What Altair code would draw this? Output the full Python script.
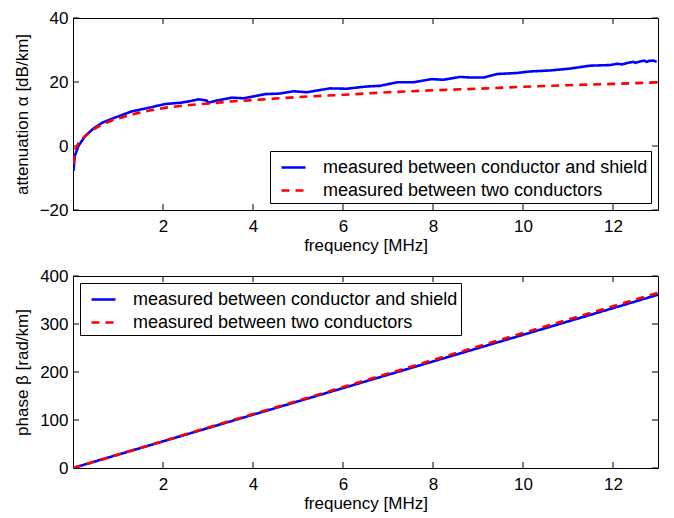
import altair as alt
import pandas as pd

# ---------------- data ----------------
S1 = "measured between conductor and shield"
S2 = "measured between two conductors"

# attenuation, measured between conductor and shield
att_shield_f = [0.01, 0.04, 0.12, 0.27, 0.45, 0.64, 0.9, 1.3, 1.64, 2.04, 2.38, 2.6,
                2.79, 2.97, 3.01, 3.19, 3.53, 3.79, 4.27, 4.6, 4.9, 5.2, 5.71, 6.08,
                6.53, 6.82, 7.2, 7.56, 7.97, 8.23, 8.6, 8.82, 9.12, 9.42, 9.86, 10.16,
                10.6, 11.05, 11.49, 11.94, 12.1, 12.2, 12.3, 12.45, 12.5, 12.6, 12.7,
                12.75, 12.8, 12.9, 12.97]
att_shield_v = [-7.8, -3.1, 0.0, 3.1, 5.4, 7.2, 8.7, 10.8, 11.8, 13.1, 13.5, 14.0,
                14.6, 14.2, 13.5, 14.2, 15.1, 14.9, 16.2, 16.4, 17.1, 16.8, 18.0, 17.9,
                18.6, 18.8, 19.9, 19.9, 20.9, 20.7, 21.6, 21.4, 21.4, 22.5, 22.8, 23.3,
                23.6, 24.2, 25.1, 25.3, 25.7, 25.5, 25.9, 26.3, 26.0, 26.4, 26.7,
                26.3, 26.6, 26.7, 26.3]

# attenuation, measured between two conductors
att_two_f = [0.01, 0.05, 0.15, 0.3, 0.45, 0.6, 0.9, 1.1, 1.41, 1.7, 2.07, 2.5, 3.04,
             3.5, 4.16, 5.0, 6.0, 7.0, 8.0, 9.0, 10.0, 11.0, 12.0, 13.0]
att_two_v = [-5.5, -1.0, 1.6, 3.5, 5.1, 6.4, 8.2, 9.0, 10.2, 11.1, 12.0, 12.7, 13.3,
             13.9, 14.5, 15.3, 16.0, 16.8, 17.4, 17.9, 18.5, 19.0, 19.4, 19.9]

# phase
phase_f = [0, 2, 4, 6, 8, 10, 12, 13]
phase_shield_v = [0, 55.5, 111, 166.5, 222, 277.5, 333, 361]
phase_two_v = [0, 56, 112.5, 168.5, 225, 281, 337, 365]

x_ticks = [2, 4, 6, 8, 10, 12]
alpha_ticks = [-20, 0, 20, 40]
beta_ticks = [0, 100, 200, 300, 400]

# ---------------- chart ----------------
W, H = 585, 192
TICK = 6
FONT = "Liberation Sans"


def legend(orient):
    return alt.Legend(
        orient=orient, offset=7, title=None, direction="vertical",
        strokeColor="black", fillColor="white", padding=3, cornerRadius=0,
        symbolType="stroke", symbolSize=576, symbolStrokeWidth=2.5,
        symbolOffset=7, labelOffset=16, labelFontSize=18, labelFont=FONT,
        labelColor="black", labelLimit=600, rowPadding=-2,
    )


def panel(f1, v1, f2, v2, ytitle, ydomain, yticks, orient):
    x_enc = alt.X("f:Q", scale=alt.Scale(domain=[0, 13], nice=False, zero=False),
                  axis=alt.Axis(values=x_ticks, title="frequency [MHz]"))
    y_enc = alt.Y("v:Q", scale=alt.Scale(domain=ydomain, nice=False, zero=False),
                  axis=alt.Axis(values=yticks, title=ytitle))
    lg = legend(orient)
    color = alt.Color("series:N", scale=alt.Scale(domain=[S1, S2], range=["#0000ff", "#ff0000"]),
                      legend=lg)
    dash = alt.StrokeDash("series:N", scale=alt.Scale(domain=[S1, S2], range=[[1, 0], [8, 6]]),
                          legend=lg)

    d1 = pd.DataFrame({"f": f1, "v": v1, "series": S1})
    d2 = pd.DataFrame({"f": f2, "v": v2, "series": S2})
    l1 = alt.Chart(d1).mark_line(strokeWidth=2.6, clip=True).encode(
        x=x_enc, y=y_enc, color=color, strokeDash=dash)
    l2 = alt.Chart(d2).mark_line(strokeWidth=2.6, clip=True).encode(
        x=x_enc, y=y_enc, color=color, strokeDash=dash)

    xt = pd.DataFrame({"f": x_ticks})
    yt = pd.DataFrame({"v": yticks})
    r_top = alt.Chart(xt).mark_rule(color="black", strokeWidth=1).encode(
        x=x_enc, y=alt.value(0), y2=alt.value(TICK))
    r_bot = alt.Chart(xt).mark_rule(color="black", strokeWidth=1).encode(
        x=x_enc, y=alt.value(H), y2=alt.value(H - TICK))
    r_left = alt.Chart(yt).mark_rule(color="black", strokeWidth=1).encode(
        y=y_enc, x=alt.value(0), x2=alt.value(TICK))
    r_right = alt.Chart(yt).mark_rule(color="black", strokeWidth=1).encode(
        y=y_enc, x=alt.value(W), x2=alt.value(W - TICK))

    return alt.layer(r_top, r_bot, r_left, r_right, l1, l2).properties(width=W, height=H)


top = panel(att_shield_f, att_shield_v, att_two_f, att_two_v,
            "attenuation α [dB/km]", [-20, 40], alpha_ticks, "bottom-right")
bottom = panel(phase_f, phase_shield_v, phase_f, phase_two_v,
               "phase β [rad/km]", [0, 400], beta_ticks, "top-left")

chart = alt.vconcat(top, bottom, spacing=12).resolve_scale(
    color="independent", strokeDash="independent", x="independent", y="independent"
).resolve_legend(color="independent", strokeDash="independent").properties(
    padding={"left": 4, "top": 0, "right": 0, "bottom": 0}
).configure(font=FONT).configure_view(
    stroke="black", strokeWidth=1
).configure_axis(
    grid=False, domain=False, ticks=False, tickSize=0,
    labelFont=FONT, titleFont=FONT, labelFontSize=17, titleFontSize=17,
    titleFontWeight="normal", labelColor="black", titleColor="black",
).configure_axisX(labelPadding=8, titlePadding=3).configure_axisY(
    labelPadding=5, titlePadding=8)

chart.save("out.html", embed_options={"renderer": "svg", "actions": False})
